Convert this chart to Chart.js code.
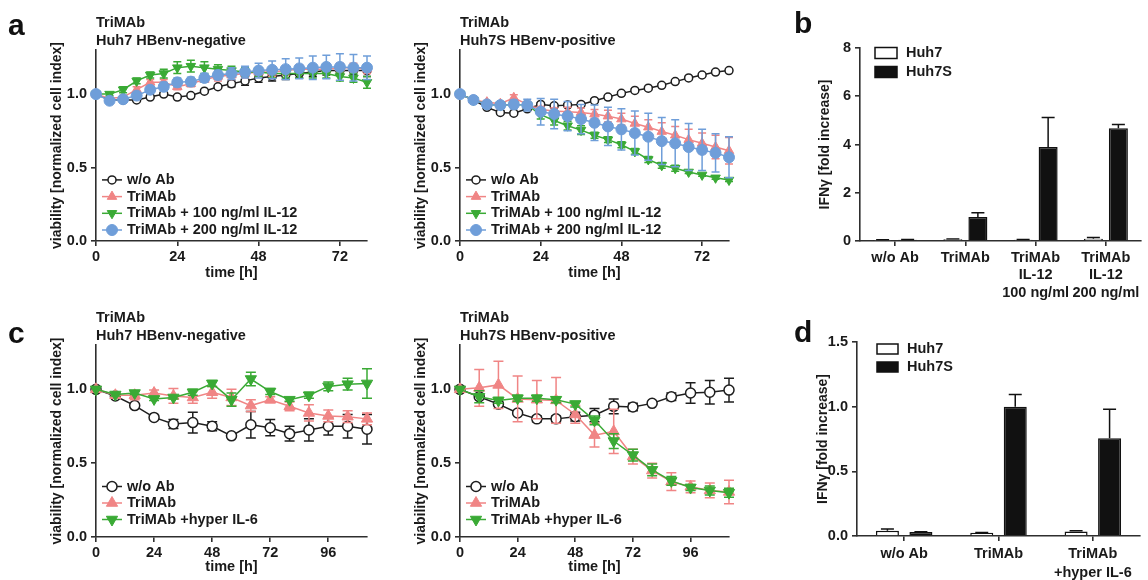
<!DOCTYPE html>
<html><head><meta charset="utf-8">
<script src="https://cdn.jsdelivr.net/npm/chart.js@4.4.1/dist/chart.umd.min.js"></script>
<style>
html,body{margin:0;padding:0;background:#fff;}
#fig{position:relative;width:1148px;height:580px;overflow:hidden;background:#fff;font-family:"Liberation Sans",Arial,Helvetica,sans-serif;}
canvas.panel{position:absolute;}
.letter{position:absolute;font-weight:bold;font-size:30px;line-height:30px;color:#111;}
</style></head><body>
<div id="fig">
  <canvas id="aL" class="panel" style="left:0px;top:0px" width="375" height="290"></canvas>
  <canvas id="aR" class="panel" style="left:380px;top:0px" width="357" height="290"></canvas>
  <canvas id="bC" class="panel" style="left:760px;top:0px" width="388" height="306"></canvas>
  <canvas id="cL" class="panel" style="left:0px;top:290px" width="375" height="290"></canvas>
  <canvas id="cR" class="panel" style="left:380px;top:290px" width="357" height="290"></canvas>
  <canvas id="dC" class="panel" style="left:760px;top:300px" width="388" height="280"></canvas>
  <div class="letter" style="left:8px;top:10px">a</div>
  <div class="letter" style="left:794px;top:8px">b</div>
  <div class="letter" style="left:8px;top:318px">c</div>
  <div class="letter" style="left:794px;top:317px">d</div>
</div>
<script>
// ---------------- DATA ----------------
const timeA = [0,4,8,12,16,20,24,28,32,36,40,44,48,52,56,60,64,68,72,76,80];
const timeC = [0,8,16,24,32,40,48,56,64,72,80,88,96,104,112];
const timeTicksA = [0,24,48,72];
const timeTicksC = [0,24,48,72,96];
const viabilityTicks = [0,0.5,1.0];
const ifnTicksB = [0,2,4,6,8];
const ifnTicksD = [0,0.5,1.0,1.5];

const seriesLabelsA = ['w/o Ab','TriMAb','TriMAb + 100 ng/ml IL-12','TriMAb + 200 ng/ml IL-12'];
const seriesLabelsC = ['w/o Ab','TriMAb','TriMAb +hyper IL-6'];
const titleNeg = ['TriMAb','Huh7 HBenv-negative'];
const titlePos = ['TriMAb','Huh7S HBenv-positive'];

// panel a, Huh7 (negative)
const aL_woAb    = [1.00,0.96,0.96,0.96,0.98,1.00,0.98,0.99,1.02,1.05,1.07,1.09,1.11,1.12,1.13,1.14,1.15,1.16,1.16,1.16,1.16];
const aL_woAbErr = [0,0.01,0.01,0.01,0.01,0.01,0.01,0.01,0.01,0.01,0.02,0.03,0.03,0.03,0.03,0.03,0.03,0.03,0.03,0.03,0.04];
const aL_tri     = [1.00,0.97,0.98,1.03,1.08,1.08,1.05,1.07,1.10,1.12,1.13,1.14,1.15,1.15,1.16,1.17,1.17,1.17,1.18,1.18,1.17];
const aL_triErr  = [0,0.01,0.01,0.02,0.02,0.02,0.02,0.02,0.02,0.03,0.03,0.03,0.03,0.03,0.03,0.03,0.03,0.03,0.03,0.03,0.03];
const aL_il100   = [1.00,1.00,1.03,1.09,1.13,1.14,1.18,1.19,1.18,1.17,1.16,1.15,1.15,1.14,1.14,1.14,1.14,1.14,1.12,1.11,1.08];
const aL_il100Err= [0,0.01,0.02,0.02,0.02,0.03,0.04,0.04,0.04,0.03,0.03,0.03,0.03,0.03,0.03,0.03,0.03,0.03,0.03,0.03,0.04];
const aL_il200   = [1.00,0.955,0.965,0.99,1.03,1.05,1.08,1.085,1.11,1.13,1.14,1.15,1.16,1.165,1.17,1.175,1.18,1.185,1.185,1.18,1.18];
const aL_il200Err= [0,0.01,0.01,0.02,0.02,0.03,0.03,0.03,0.03,0.03,0.04,0.04,0.05,0.06,0.07,0.07,0.08,0.08,0.09,0.09,0.08];

// panel a, Huh7S (positive)
const aR_woAb    = [1.00,0.96,0.91,0.875,0.87,0.90,0.93,0.92,0.925,0.93,0.955,0.98,1.005,1.025,1.04,1.06,1.085,1.11,1.13,1.15,1.16];
const aR_woAbErr = [0,0.01,0.01,0.01,0.01,0.01,0.01,0.01,0.01,0.01,0.01,0.01,0.01,0.01,0.01,0.01,0.01,0.01,0.01,0.01,0.01];
const aR_tri     = [1.00,0.96,0.945,0.935,0.975,0.93,0.895,0.885,0.88,0.875,0.865,0.85,0.83,0.80,0.775,0.745,0.72,0.69,0.665,0.64,0.615];
const aR_triErr  = [0,0.01,0.01,0.01,0.02,0.02,0.02,0.02,0.03,0.03,0.03,0.04,0.04,0.05,0.05,0.06,0.06,0.07,0.07,0.08,0.09];
const aR_il100   = [1.00,0.96,0.93,0.925,0.93,0.925,0.86,0.82,0.785,0.755,0.72,0.69,0.655,0.61,0.555,0.515,0.495,0.47,0.45,0.43,0.415];
const aR_il100Err= [0,0.01,0.01,0.01,0.01,0.01,0.03,0.03,0.03,0.03,0.02,0.02,0.02,0.02,0.02,0.02,0.02,0.01,0.01,0.01,0.01];
const aR_il200   = [1.00,0.96,0.93,0.925,0.93,0.925,0.88,0.865,0.85,0.83,0.805,0.78,0.76,0.735,0.71,0.68,0.665,0.64,0.62,0.60,0.57];
const aR_il200Err= [0,0.01,0.02,0.02,0.03,0.04,0.09,0.10,0.10,0.10,0.12,0.13,0.14,0.15,0.16,0.16,0.16,0.16,0.14,0.13,0.14];

// panel c, Huh7 (negative)
const cL_woAb    = [1.00,0.955,0.89,0.81,0.765,0.775,0.75,0.685,0.76,0.74,0.70,0.725,0.75,0.75,0.73];
const cL_woAbErr = [0,0.01,0.01,0.01,0.03,0.07,0.03,0.01,0.09,0.055,0.05,0.075,0.06,0.08,0.10];
const cL_tri     = [1.00,0.96,0.96,0.975,0.955,0.945,0.98,0.945,0.89,0.93,0.885,0.84,0.82,0.815,0.80];
const cL_triErr  = [0,0.01,0.03,0.02,0.05,0.04,0.04,0.055,0.04,0.02,0.03,0.055,0.04,0.04,0.04];
const cL_hyp     = [1.00,0.965,0.975,0.935,0.945,0.98,1.04,0.93,1.07,0.985,0.93,0.96,1.02,1.035,1.04];
const cL_hypErr  = [0,0.01,0.01,0.01,0.01,0.02,0.02,0.045,0.045,0.02,0.01,0.02,0.03,0.04,0.10];

// panel c, Huh7S (positive)
const cR_woAb    = [1.00,0.95,0.90,0.84,0.80,0.80,0.815,0.825,0.885,0.88,0.905,0.95,0.975,0.98,0.995];
const cR_woAbErr = [0,0.01,0.01,0.01,0.02,0.02,0.03,0.045,0.05,0.025,0.01,0.025,0.07,0.08,0.08];
const cR_tri     = [1.00,1.01,1.03,0.935,0.93,0.925,0.83,0.69,0.715,0.545,0.45,0.375,0.34,0.315,0.305];
const cR_triErr  = [0,0.125,0.16,0.155,0.13,0.155,0.06,0.08,0.15,0.05,0.05,0.06,0.04,0.05,0.08];
const cR_hyp     = [1.00,0.95,0.925,0.94,0.94,0.93,0.90,0.79,0.65,0.555,0.455,0.38,0.335,0.315,0.30];
const cR_hypErr  = [0,0.04,0.02,0.02,0.02,0.02,0.02,0.03,0.05,0.04,0.04,0.03,0.02,0.03,0.03];

// panel b
const ifnCategoriesB = [['w/o Ab'],['TriMAb'],['TriMAb','IL-12','100 ng/ml'],['TriMAb','IL-12','200 ng/ml']];
const bHuh7     = [0.04,0.07,0.055,0.09];
const bHuh7Err  = [0.01,0.01,0.01,0.05];
const bHuh7S    = [0.05,1.0,3.9,4.67];
const bHuh7SErr = [0.01,0.17,1.22,0.16];

// panel d
const ifnCategoriesD = [['w/o Ab'],['TriMAb'],['TriMAb','+hyper IL-6']];
const dHuh7     = [0.04,0.025,0.035];
const dHuh7Err  = [0.015,0.003,0.005];
const dHuh7S    = [0.03,1.0,0.755];
const dHuh7SErr = [0.003,0.095,0.225];

const cellLabels = ['Huh7','Huh7S'];

// ---------------- STYLE ----------------
const FONT = '"Liberation Sans", Arial, Helvetica, sans-serif';
const INK = '#1a1a1a';
const AXIS = '#2e2e2e';
Chart.defaults.font.family = FONT;
Chart.defaults.font.weight = 'bold';
Chart.defaults.font.size = 14.5;
Chart.defaults.color = INK;

const markerA = [
  {color:'#1e1e1e', fill:'#ffffff', pointStyle:'circle',   r:4,   rot:0,   bw:1.5},
  {color:'#f08585', fill:'#f08585', pointStyle:'triangle', r:5.5, rot:0,   bw:1},
  {color:'#3aaa35', fill:'#3aaa35', pointStyle:'triangle', r:5.5, rot:180, bw:1},
  {color:'#6f9ed9', fill:'#6f9ed9', pointStyle:'circle',   r:5.5, rot:0,   bw:1}
];
const markerC = [
  {color:'#1e1e1e', fill:'#ffffff', pointStyle:'circle',   r:5,   rot:0,   bw:1.5},
  {color:'#f08585', fill:'#f08585', pointStyle:'triangle', r:6.5, rot:0,   bw:1},
  {color:'#3aaa35', fill:'#3aaa35', pointStyle:'triangle', r:6.5, rot:180, bw:1}
];

// ---------------- PLUGINS ----------------
function drawMarker(ctx, m, x, y) {
  ctx.save();
  ctx.beginPath();
  if (m.pointStyle === 'circle') {
    ctx.arc(x, y, m.r, 0, Math.PI * 2);
  } else {
    let rad = (m.rot || 0) * Math.PI / 180;
    ctx.moveTo(x + Math.sin(rad) * m.r, y - Math.cos(rad) * m.r);
    rad += 2 * Math.PI / 3;
    ctx.lineTo(x + Math.sin(rad) * m.r, y - Math.cos(rad) * m.r);
    rad += 2 * Math.PI / 3;
    ctx.lineTo(x + Math.sin(rad) * m.r, y - Math.cos(rad) * m.r);
    ctx.closePath();
  }
  ctx.fillStyle = m.fill;
  ctx.fill();
  if (m.bw > 0) { ctx.lineWidth = m.bw; ctx.strokeStyle = m.color; ctx.stroke(); }
  ctx.restore();
}

const errorBars = {
  id: 'errorBars',
  beforeDatasetDraw(chart, args) {
    const d = chart.data.datasets[args.index];
    if (!d.errors) return;
    const meta = args.meta;
    const ys = meta.yScale;
    const ctx = chart.ctx;
    ctx.save();
    ctx.strokeStyle = d.errColor || d.borderColor;
    ctx.lineWidth = d.errWidth || 1.5;
    meta.data.forEach((el, i) => {
      const e = d.errors[i];
      if (!e) return;
      const v = meta.controller.getParsed(i).y;
      const x = el.x;
      const yT = ys.getPixelForValue(v + e);
      const yB = d.errUp ? ys.getPixelForValue(v) : ys.getPixelForValue(v - e);
      const c = d.errCap || 4;
      ctx.beginPath();
      ctx.moveTo(x, yT); ctx.lineTo(x, yB);
      ctx.moveTo(x - c, yT); ctx.lineTo(x + c, yT);
      if (!d.errUp) { ctx.moveTo(x - c, yB); ctx.lineTo(x + c, yB); }
      ctx.stroke();
    });
    ctx.restore();
  }
};
Chart.register(errorBars);

function insideLegend(cfg) {
  return {
    id: 'insideLegend',
    afterDatasetsDraw(chart) {
      const ctx = chart.ctx, a = chart.chartArea;
      const ds = chart.data.datasets, n = ds.length;
      ctx.save();
      ctx.font = 'bold ' + cfg.fontSize + 'px ' + FONT;
      ctx.textBaseline = 'middle';
      ctx.textAlign = 'left';
      ds.forEach((d, i) => {
        const y = cfg.fromTop ? a.top + cfg.gap + i * cfg.row : a.bottom - cfg.gap - (n - 1 - i) * cfg.row;
        const x0 = a.left + cfg.indent;
        if (cfg.kind === 'box') {
          ctx.fillStyle = d.backgroundColor;
          ctx.fillRect(x0, y - cfg.boxH / 2, cfg.boxW, cfg.boxH);
          ctx.lineWidth = 1.5;
          ctx.strokeStyle = d.borderColor;
          ctx.strokeRect(x0, y - cfg.boxH / 2, cfg.boxW, cfg.boxH);
        } else {
          ctx.strokeStyle = d.borderColor;
          ctx.lineWidth = d.borderWidth;
          ctx.beginPath(); ctx.moveTo(x0, y); ctx.lineTo(x0 + cfg.sample, y); ctx.stroke();
          drawMarker(ctx, d.marker, x0 + cfg.sample / 2, y);
        }
        ctx.fillStyle = INK;
        ctx.fillText(d.label, x0 + cfg.textOffset, y);
      });
      ctx.restore();
    }
  };
}

// ---------------- BUILDERS ----------------
function lineDatasets(times, series, errs, labels, markers, cap) {
  const n = series.length;
  return series.map((vals, i) => {
    const m = markers[i];
    return {
      label: labels[i],
      data: times.map((t, k) => ({x: t, y: vals[k]})),
      errors: errs[i],
      errCap: cap,
      marker: m,
      borderColor: m.color,
      backgroundColor: m.fill,
      borderWidth: 1.5,
      pointStyle: m.pointStyle,
      pointRadius: m.r,
      pointRotation: m.rot,
      pointBackgroundColor: m.fill,
      pointBorderColor: m.color,
      pointBorderWidth: m.bw,
      tension: 0,
      clip: false,
      order: n - 1 - i
    };
  });
}

function lineChart(id, o) {
  return new Chart(document.getElementById(id), {
    type: 'line',
    data: { datasets: o.datasets },
    plugins: [insideLegend(o.legend)],
    options: {
      responsive: false, animation: false, events: [],
      layout: { padding: o.pad },
      plugins: {
        legend: { display: false }, tooltip: { enabled: false },
        title: { display: true, text: o.title, align: 'start', position: 'top', fullSize: false,
          color: INK, font: { size: 14.5, weight: 'bold', lineHeight: 1.26 }, padding: { top: 1, bottom: 0 } }
      },
      scales: {
        x: {
          type: 'linear', min: 0, max: o.xMax,
          afterBuildTicks: s => { s.ticks = o.xTicks.map(v => ({ value: v })); },
          afterFit: s => { s.height = o.xH; },
          grid: { display: true, drawOnChartArea: false, drawTicks: true, tickLength: 5, color: AXIS, lineWidth: 1.6 },
          border: { display: true, color: AXIS, width: 1.6 },
          ticks: { padding: 2, color: INK, font: { size: 14.5, weight: 'bold', lineHeight: 1.2 }, maxRotation: 0, autoSkip: false },
          title: { display: true, text: 'time [h]', color: INK, font: { size: 14.5, weight: 'bold', lineHeight: 1.2 }, padding: { top: 0, bottom: 4 } }
        },
        y: {
          type: 'linear', min: 0, max: 1.3,
          afterBuildTicks: s => { s.ticks = viabilityTicks.map(v => ({ value: v })); },
          afterFit: s => { s.width = o.yW; },
          grid: { display: true, drawOnChartArea: false, drawTicks: true, tickLength: 5, color: AXIS, lineWidth: 1.6 },
          border: { display: true, color: AXIS, width: 1.6 },
          ticks: { padding: 4, color: INK, font: { size: 14.5, weight: 'bold', lineHeight: 1.2 }, callback: v => Number(v).toFixed(1) },
          title: { display: true, text: 'viability [normalized cell index]', color: INK, font: { size: 14, weight: 'bold', lineHeight: 1.2 }, padding: { top: 4, bottom: 0 } }
        }
      }
    }
  });
}

function barChart(id, o) {
  return new Chart(document.getElementById(id), {
    type: 'bar',
    data: {
      labels: o.labels,
      datasets: [
        { label: cellLabels[0], data: o.v1, errors: o.e1, errUp: true, errCap: o.cap, errColor: '#111',
          backgroundColor: '#ffffff', borderColor: '#111111', borderWidth: 1.5,
          categoryPercentage: o.catPct, barPercentage: o.barPct },
        { label: cellLabels[1], data: o.v2, errors: o.e2, errUp: true, errCap: o.cap, errColor: '#111',
          backgroundColor: '#111111', borderColor: '#111111', borderWidth: 1.5,
          categoryPercentage: o.catPct, barPercentage: o.barPct }
      ]
    },
    plugins: [insideLegend(o.legend)],
    options: {
      responsive: false, animation: false, events: [],
      layout: { padding: o.pad },
      plugins: { legend: { display: false }, tooltip: { enabled: false }, title: { display: false } },
      scales: {
        x: {
          type: 'category', offset: true,
          afterFit: s => { s.height = o.xH; },
          grid: { display: true, offset: false, drawOnChartArea: false, drawTicks: true, tickLength: 5, color: AXIS, lineWidth: 1.6 },
          border: { display: true, color: AXIS, width: 1.6 },
          ticks: { padding: 3, color: INK, font: { size: 14.5, weight: 'bold', lineHeight: o.xLH }, maxRotation: 0, autoSkip: false }
        },
        y: {
          type: 'linear', min: 0, max: o.yMax,
          afterBuildTicks: s => { s.ticks = o.yTicks.map(v => ({ value: v })); },
          afterFit: s => { s.width = o.yW; },
          grid: { display: true, drawOnChartArea: false, drawTicks: true, tickLength: 5, color: AXIS, lineWidth: 1.6 },
          border: { display: true, color: AXIS, width: 1.6 },
          ticks: { padding: 4, color: INK, font: { size: 14.5, weight: 'bold', lineHeight: 1.2 }, callback: o.yFmt },
          title: { display: true, text: 'IFNγ [fold increase]', color: INK, font: { size: 14, weight: 'bold', lineHeight: 1.2 }, padding: { top: 4, bottom: 0 } }
        }
      }
    }
  });
}

// ---------------- CHARTS ----------------
const legA = { fontSize: 14.5, indent: 6, sample: 20, textOffset: 25, row: 16.7, gap: 11, fromTop: false, kind: 'line' };
const legC = { fontSize: 14.5, indent: 6, sample: 20, textOffset: 25, row: 16.5, gap: 17.5, fromTop: false, kind: 'line' };

lineChart('aL', {
  datasets: lineDatasets(timeA, [aL_woAb, aL_tri, aL_il100, aL_il200], [aL_woAbErr, aL_triErr, aL_il100Err, aL_il200Err], seriesLabelsA, markerA, 4),
  title: titleNeg, xMax: 80, xTicks: timeTicksA,
  pad: { left: 45, right: 8, top: 12.5, bottom: 4 }, yW: 51, xH: 45, legend: legA
});
lineChart('aR', {
  datasets: lineDatasets(timeA, [aR_woAb, aR_tri, aR_il100, aR_il200], [aR_woAbErr, aR_triErr, aR_il100Err, aR_il200Err], seriesLabelsA, markerA, 4),
  title: titlePos, xMax: 80, xTicks: timeTicksA,
  pad: { left: 29, right: 8, top: 12.5, bottom: 4 }, yW: 51, xH: 45, legend: legA
});
lineChart('cL', {
  datasets: lineDatasets(timeC, [cL_woAb, cL_tri, cL_hyp], [cL_woAbErr, cL_triErr, cL_hypErr], seriesLabelsC, markerC, 5),
  title: titleNeg, xMax: 112, xTicks: timeTicksC,
  pad: { left: 45, right: 8, top: 17.5, bottom: 0 }, yW: 51, xH: 43, legend: legC
});
lineChart('cR', {
  datasets: lineDatasets(timeC, [cR_woAb, cR_tri, cR_hyp], [cR_woAbErr, cR_triErr, cR_hypErr], seriesLabelsC, markerC, 5),
  title: titlePos, xMax: 112, xTicks: timeTicksC,
  pad: { left: 29, right: 8, top: 17.5, bottom: 0 }, yW: 51, xH: 43, legend: legC
});

barChart('bC', {
  labels: ifnCategoriesB, v1: bHuh7, e1: bHuh7Err, v2: bHuh7S, e2: bHuh7SErr,
  yMax: 8, yTicks: ifnTicksB, yFmt: v => String(v),
  catPct: 0.712, barPct: 0.76, cap: 6.5, xLH: 1.2,
  pad: { left: 53, right: 7, top: 48, bottom: 3 }, yW: 47, xH: 62,
  legend: { fontSize: 14.5, indent: 15, boxW: 22, boxH: 11, textOffset: 31, row: 19, gap: 5, fromTop: true, kind: 'box' }
});
barChart('dC', {
  labels: ifnCategoriesD, v1: dHuh7, e1: dHuh7Err, v2: dHuh7S, e2: dHuh7SErr,
  yMax: 1.5, yTicks: ifnTicksD, yFmt: v => Number(v).toFixed(1),
  catPct: 0.71, barPct: 0.687, cap: 6.5, xLH: 1.35,
  pad: { left: 51, right: 8, top: 42, bottom: 0 }, yW: 46, xH: 44,
  legend: { fontSize: 14.5, indent: 20, boxW: 21, boxH: 10, textOffset: 30, row: 18, gap: 7, fromTop: true, kind: 'box' }
});
</script>
</body></html>
